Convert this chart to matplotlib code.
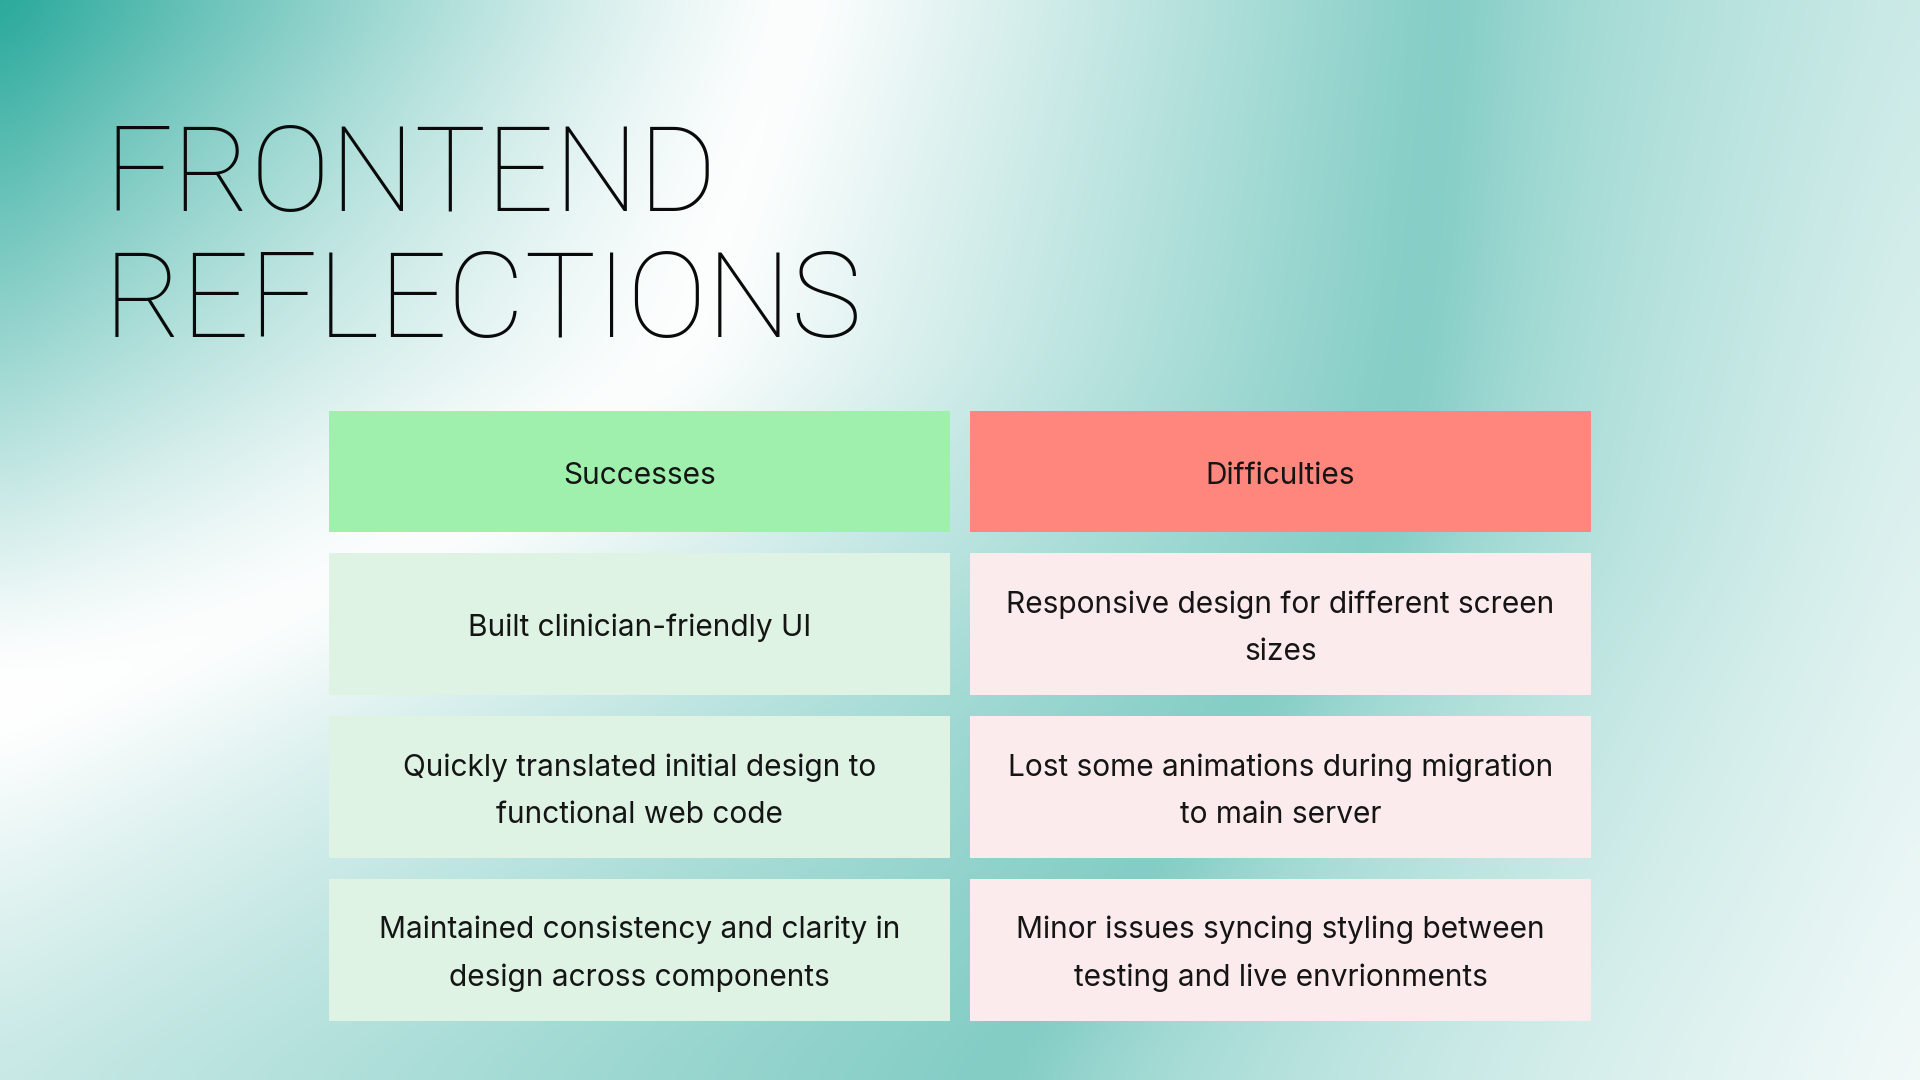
import numpy as np
import matplotlib.pyplot as plt
from matplotlib.patches import Rectangle

# ---- content ----
TITLE_LINES = ["FRONTEND", "REFLECTIONS"]
HEADERS = ["Successes", "Difficulties"]
SUCCESSES = [
    "Built clinician-friendly UI",
    "Quickly translated initial design to\nfunctional web code",
    "Maintained consistency and clarity in\ndesign across components",
]
DIFFICULTIES = [
    "Responsive design for different screen\nsizes",
    "Lost some animations during migration\nto main server",
    "Minor issues syncing styling between\ntesting and live envrionments",
]

HEADER_COLORS = ["#9FEFAD", "#FF867D"]
CELL_COLORS = ["#DEF3E3", "#FCEBEC"]

W, H = 1920, 1080

# ---- background gradient (white -> teal) ----
yy, xx = np.mgrid[0:H, 0:W].astype(float)
# white ridge and teal ridge, x position per y
y_pts = np.array([0, 367, 551, 735, 900, 1080])
xw_pts = np.array([810, 686, 430, 20, -350, -800])
xt_y = np.array([0, 270, 540, 705, 869, 1080])
xt_pts = np.array([1462, 1440, 1400, 1273, 1175, 1016])
xw = np.interp(yy, y_pts, xw_pts)
xt = np.interp(yy, xt_y, xt_pts)

s = np.clip((xx - xw) / (xt - xw), 0, 1)
t = s.copy()

# right of the teal ridge: fade towards the right edge
d = np.clip((xx - xt) / (W - xt + 1), 0, 1)
t_right = 1 - d ** 0.6 * (0.6 + 0.3 * yy / H)
t = np.where(xx > xt, t_right, t)

# left of the white ridge: darker teal towards the top-left corner
t_edge = np.clip(1.72 - 0.0026 * yy, 0, None)
u = np.clip(1 - xx / np.maximum(xw, 1), 0, 1)
t = np.where(xx < xw, t_edge * u ** 1.25, t)
t = np.clip(t, 0, 1.75)


def box_blur(a, r):
    # separable box blur, edge padded
    k = 2 * r + 1
    p = np.pad(a, ((r, r), (0, 0)), mode="edge")
    c = np.cumsum(np.vstack([np.zeros((1, p.shape[1])), p]), axis=0)
    a = (c[k:] - c[:-k]) / k
    p = np.pad(a, ((0, 0), (r, r)), mode="edge")
    c = np.cumsum(np.hstack([np.zeros((p.shape[0], 1)), p]), axis=1)
    return (c[:, k:] - c[:, :-k]) / k


t = box_blur(box_blur(t, 30), 30)

white = np.array([255, 255, 255.0])
delta = np.array([127, 51, 59.0])
bg = (white[None, None, :] - t[..., None] * delta[None, None, :]) / 255.0
bg = np.clip(bg, 0, 1)

fig = plt.figure(figsize=(19.2, 10.8), dpi=100)
ax = fig.add_axes([0, 0, 1, 1])
ax.imshow(bg, extent=(0, W, H, 0), aspect="auto", interpolation="bilinear")
ax.set_xlim(0, W)
ax.set_ylim(H, 0)
ax.axis("off")

# ---- title ----
title_kw = dict(fontsize=86, fontfamily="Roboto", fontweight="light", color="#0a0a0a", va="baseline", ha="left")
ax.text(104, 211, TITLE_LINES[0], **title_kw)
ax.text(104, 337, TITLE_LINES[1], **title_kw)

# ---- table ----
col_x = [329, 970]
col_w = 621
row_y = [411, 553, 716, 879]
row_h = [121, 142, 142, 142]
txt_kw = dict(fontsize=21.5, fontfamily="Inter", color="#151515", ha="center", va="center", linespacing=1.85)

for c in range(2):
    ax.add_patch(Rectangle((col_x[c], row_y[0]), col_w, row_h[0], color=HEADER_COLORS[c], lw=0))
    ax.text(col_x[c] + col_w / 2, row_y[0] + row_h[0] / 2 + 4, HEADERS[c], **txt_kw)
    items = SUCCESSES if c == 0 else DIFFICULTIES
    for r, item in enumerate(items):
        y0 = row_y[r + 1]
        ax.add_patch(Rectangle((col_x[c], y0), col_w, row_h[r + 1], color=CELL_COLORS[c], lw=0))
        ax.text(col_x[c] + col_w / 2, y0 + row_h[r + 1] / 2 + 4, item, **txt_kw)

fig.savefig("out.png", dpi=100)
